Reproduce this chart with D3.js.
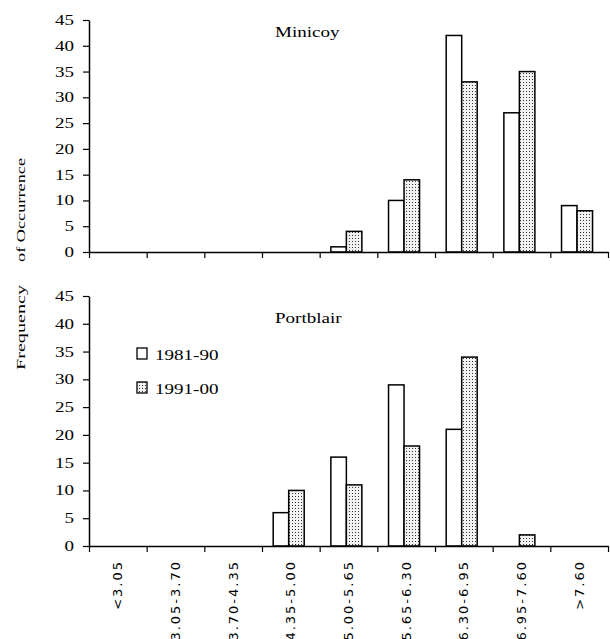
<!DOCTYPE html>
<html><head><meta charset="utf-8">
<script src="https://cdn.jsdelivr.net/npm/d3@7"></script>
<style>
html,body{margin:0;padding:0;background:#fff;}
svg{display:block;}
</style></head>
<body>
<svg id="chart" width="610" height="639"></svg>
<script>
const categories = ["<3.05","3.05-3.70","3.70-4.35","4.35-5.00","5.00-5.65","5.65-6.30","6.30-6.95","6.95-7.60",">7.60"];
const seriesNames = ["1981-90","1991-00"];
const minicoy1981 = [0,0,0,0,1,10,42,27,9];
const minicoy1991 = [0,0,0,0,4,14,33,35,8];
const portblair1981 = [0,0,0,6,16,29,21,0,0];
const portblair1991 = [0,0,0,10,11,18,34,2,0];
const yTicks = [0,5,10,15,20,25,30,35,40,45];
const panelTitles = ["Minicoy","Portblair"];

const svg = d3.select("#chart");
const defs = svg.append("defs");
const pat = defs.append("pattern").attr("id","dots").attr("patternUnits","userSpaceOnUse")
  .attr("width",3).attr("height",3);
pat.append("rect").attr("width",3).attr("height",3).attr("fill","#f2f2f2");
pat.append("rect").attr("x",1).attr("y",1).attr("width",1).attr("height",1).attr("fill","#333");

const SX = 1.36;
const left = 89, right = 608;
const x0 = d3.scaleBand().domain(categories).range([left,right]).padding(0);
const x1 = d3.scaleBand().domain(seriesNames).range([0,x0.bandwidth()]).paddingInner(0).paddingOuter(0.86).align(0.42);
const xb = d3.scaleLinear().domain([0,categories.length]).range([left,right]);

const panels = [
  {title:panelTitles[0], data:[minicoy1981,minicoy1991], y0:252, y1:20, titleY:37, labels:false},
  {title:panelTitles[1], data:[portblair1981,portblair1991], y0:546, y1:296, titleY:323, labels:true}
];

panels.forEach(p => {
  const y = d3.scaleLinear().domain([0,45]).range([p.y0,p.y1]);
  const g = svg.append("g");
  // bars
  p.data.forEach((vals,si) => {
    g.selectAll(null).data(categories.map((c,i)=>({c, v:vals[i]})).filter(d=>d.v>0))
      .enter().append("rect")
      .attr("x", d => x0(d.c) + x1(seriesNames[si]))
      .attr("y", d => y(d.v))
      .attr("width", x1.bandwidth())
      .attr("height", d => y(0) - y(d.v))
      .attr("fill", si===0 ? "#fff" : "url(#dots)")
      .attr("stroke","#000").attr("stroke-width",1.5);
  });
  // y axis
  const ya = g.append("g").attr("transform",`translate(${left},0)`)
    .call(d3.axisLeft(y).tickValues(yTicks).tickSize(6).tickSizeOuter(0).tickPadding(9));
  ya.select(".domain").attr("stroke","#000").attr("stroke-width",1.5);
  ya.selectAll(".tick line").attr("stroke","#000").attr("stroke-width",1.2);
  ya.selectAll(".tick text").attr("x",0).attr("transform","translate(-15,0) scale(1.36,1)")
    .attr("font-family","'Liberation Serif', 'Times New Roman', serif").attr("font-size",14).attr("fill","#000");
  // x axis (boundary ticks)
  const xa = g.append("g").attr("transform",`translate(0,${p.y0})`)
    .call(d3.axisBottom(xb).tickValues(d3.range(categories.length+1)).tickSize(6).tickSizeOuter(0).tickFormat(""));
  xa.select(".domain").attr("stroke","#000").attr("stroke-width",1.5);
  xa.selectAll(".tick line").attr("stroke","#000").attr("stroke-width",1.2);
  // title
  g.append("text").attr("transform",`translate(275,${p.titleY}) scale(${SX},1)`)
    .attr("font-family","'Liberation Serif', 'Times New Roman', serif").attr("font-size",14)
    .text(p.title);
  if (p.labels) {
    g.selectAll(null).data(categories).enter().append("text")
      .attr("transform", d => `translate(${x0(d)+x0.bandwidth()/2},560) rotate(-90)`)
      .attr("text-anchor","end").attr("dy","0.35em")
      .attr("font-family","'DejaVu Sans', sans-serif").attr("font-size",13)
      .attr("letter-spacing",2)
      .text(d => d);
  }
});

// legend
const legRows = [{name:seriesNames[0], fill:"#fff", sy:348, ty:360},{name:seriesNames[1], fill:"url(#dots)", sy:382, ty:394}];
legRows.forEach(r => {
  svg.append("rect").attr("x",137).attr("y",r.sy).attr("width",10).attr("height",11)
    .attr("fill",r.fill).attr("stroke","#000").attr("stroke-width",1.3);
  svg.append("text").attr("transform",`translate(155,${r.ty}) scale(${SX},1)`)
    .attr("font-family","'Liberation Serif', 'Times New Roman', serif").attr("font-size",14)
    .text(r.name);
});

// y axis label
svg.append("text").attr("transform","translate(25,370) rotate(-90)")
  .attr("font-family","'Liberation Serif', 'Times New Roman', serif").attr("font-size",13)
  .attr("textLength",85).attr("lengthAdjust","spacingAndGlyphs")
  .text("Frequency");
svg.append("text").attr("transform","translate(25,262) rotate(-90)")
  .attr("font-family","'Liberation Serif', 'Times New Roman', serif").attr("font-size",13)
  .attr("textLength",104).attr("lengthAdjust","spacingAndGlyphs")
  .text("of Occurrence");
</script>
</body></html>
